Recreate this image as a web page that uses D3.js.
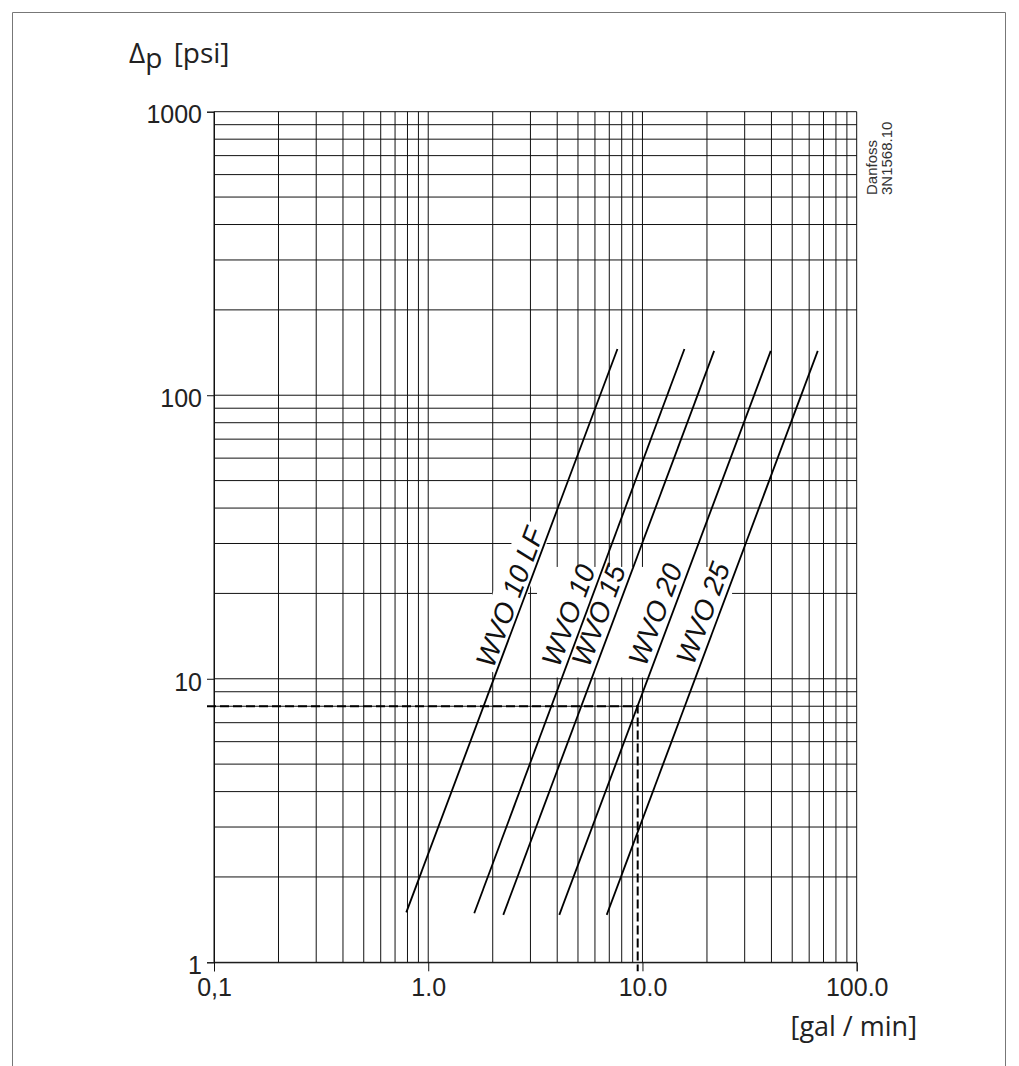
<!DOCTYPE html>
<html>
<head>
<meta charset="utf-8">
<script src="https://cdn.jsdelivr.net/npm/d3@7"></script>
<style>
  body { margin: 0; background: #fff; }
  svg { display: block; }
</style>
</head>
<body>
<svg id="chart" width="1019" height="1066"></svg>
<script>
const xTicks = [0.1, 1, 10, 100];
const xTickLabels = ["0,1", "1.0", "10.0", "100.0"];
const yTicks = [1, 10, 100, 1000];
const yTickLabels = ["1", "10", "100", "1000"];

const valves = ["WVO 10 LF", "WVO 10", "WVO 15", "WVO 20", "WVO 25"];
const flowStart = [0.79, 1.64, 2.24, 4.09, 6.81];
const dpStart = [1.5, 1.49, 1.47, 1.47, 1.47];
const flowEnd = [7.64, 15.7, 21.6, 39.7, 65.8];
const dpEnd = [145.6, 145.6, 143.3, 143.3, 143.3];
const labelDp = [10.7, 10.7, 10.7, 10.8, 10.9];

// ejemplo de lectura (línea discontinua)
const exampleDp = 8;
const exampleFlow = 9.5;

const svg = d3.select("#chart");

// marco exterior
svg.append("path")
    .attr("d", "M12.5,1066V12.5H1005.5V1066")
    .attr("fill", "none")
    .attr("stroke", "#777")
    .attr("stroke-width", 1);

const x = d3.scaleLog().domain([0.1, 100]).range([214, 856.7]);
const y = d3.scaleLog().domain([1, 1000]).range([962.3, 111.7]);

// rejilla
const grid = svg.append("g").attr("stroke", "#111").attr("stroke-width", 1);
grid.selectAll(".vx")
    .data(x.ticks())
    .enter()
    .append("line")
    .attr("x1", d => x(d)).attr("x2", d => x(d))
    .attr("y1", y(1000)).attr("y2", y(1));
grid.selectAll(".hy")
    .data(y.ticks())
    .enter()
    .append("line")
    .attr("x1", x(0.1)).attr("x2", x(100))
    .attr("y1", d => y(d)).attr("y2", d => y(d));

// fondo blanco detrás de las etiquetas
const labelBox = { q: [3.22, 26.2], dp: [10.1, 24.8] };
svg.append("rect")
    .attr("x", x(labelBox.q[0]))
    .attr("y", y(labelBox.dp[1]))
    .attr("width", x(labelBox.q[1]) - x(labelBox.q[0]))
    .attr("height", y(labelBox.dp[0]) - y(labelBox.dp[1]))
    .attr("fill", "#fff");

// ejes
const yAxis = svg.append("g")
    .attr("transform", `translate(${x(0.1)},0)`)
    .call(d3.axisLeft(y).tickValues(yTicks).tickFormat((d, i) => yTickLabels[i]).tickSize(7).tickPadding(5));
yAxis.selectAll("text").attr("dy", "0.45em");

const xAxis = svg.append("g")
    .attr("transform", `translate(0,${y(1)})`)
    .call(d3.axisBottom(x).tickValues(xTicks).tickFormat((d, i) => xTickLabels[i]).tickSize(9).tickPadding(7));

svg.selectAll(".tick text")
    .style("font-family", "'Liberation Sans', Arial, sans-serif")
    .style("font-size", "25px")
    .attr("fill", "#222");
svg.selectAll(".tick line").attr("stroke", "#111");
svg.selectAll(".domain").attr("stroke", "#111");

// curvas de las válvulas
const curves = valves.map((v, i) => ({
    name: v,
    pts: [[flowStart[i], dpStart[i]], [flowEnd[i], dpEnd[i]]],
    labelDp: labelDp[i],
    i: i
}));

const line = d3.line().x(d => x(d[0])).y(d => y(d[1]));

// línea discontinua
svg.append("path")
    .attr("d", `M${x(0.1) - 7},${y(exampleDp)}H${x(exampleFlow)}V${y(1) + 9}`)
    .attr("fill", "none")
    .attr("stroke", "#000")
    .attr("stroke-width", 2)
    .attr("stroke-dasharray", "9,4");

// etiquetas rotadas
curves.forEach(c => {
    const p0 = [x(c.pts[0][0]), y(c.pts[0][1])];
    const p1 = [x(c.pts[1][0]), y(c.pts[1][1])];
    const ang = Math.atan2(p1[1] - p0[1], p1[0] - p0[0]) * 180 / Math.PI;
    // punto sobre la recta para el dp de la etiqueta
    const t = (Math.log(c.labelDp) - Math.log(c.pts[0][1])) / (Math.log(c.pts[1][1]) - Math.log(c.pts[0][1]));
    const q = Math.exp(Math.log(c.pts[0][0]) + t * (Math.log(c.pts[1][0]) - Math.log(c.pts[0][0])));
    const g = svg.append("g")
        .attr("transform", `translate(${x(q)},${y(c.labelDp)}) rotate(${ang})`);
    const txt = g.append("text")
        .attr("x", 0)
        .attr("y", c.i === 0 ? -4 : -6)
        .style("font-family", "'Liberation Sans', Arial, sans-serif")
        .style("font-style", "italic")
        .style("font-size", "28px")
        .attr("fill", "#111")
        .text(c.name);
    if (c.i === 0) {
        const bb = txt.node().getBBox();
        g.insert("rect", "text")
            .attr("x", bb.x - 3).attr("y", bb.y - 2)
            .attr("width", bb.width + 6).attr("height", bb.height + 2)
            .attr("fill", "#fff");
    }
});

svg.selectAll(".curve")
    .data(curves)
    .enter()
    .append("path")
    .attr("class", "curve")
    .attr("d", c => line(c.pts))
    .attr("fill", "none")
    .attr("stroke", "#000")
    .attr("stroke-width", 1.8);

// títulos de los ejes
const yTitle = svg.append("text")
    .attr("x", 129)
    .attr("y", 63)
    .style("font-family", "'Open Sans', sans-serif")
    .style("font-size", "28px")
    .attr("fill", "#222");
yTitle.append("tspan").text("Δ");
yTitle.append("tspan").attr("dy", 5).text("p");
yTitle.append("tspan").attr("dy", -5).attr("dx", 4).text(" [psi]");

svg.append("text")
    .attr("x", 917)
    .attr("y", 1036)
    .attr("text-anchor", "end")
    .style("font-family", "'Open Sans', sans-serif")
    .style("font-size", "27px")
    .attr("fill", "#222")
    .text("[gal / min]");

// referencia Danfoss
const ref = svg.append("g").attr("transform", "translate(877,195) rotate(-90)");
ref.append("text")
    .style("font-family", "'Liberation Sans', Arial, sans-serif")
    .style("font-size", "15px")
    .attr("fill", "#333")
    .text("Danfoss");
ref.append("text")
    .attr("y", 15)
    .style("font-family", "'Liberation Sans', Arial, sans-serif")
    .style("font-size", "15px")
    .attr("fill", "#333")
    .text("3N1568.10");
</script>
</body>
</html>
